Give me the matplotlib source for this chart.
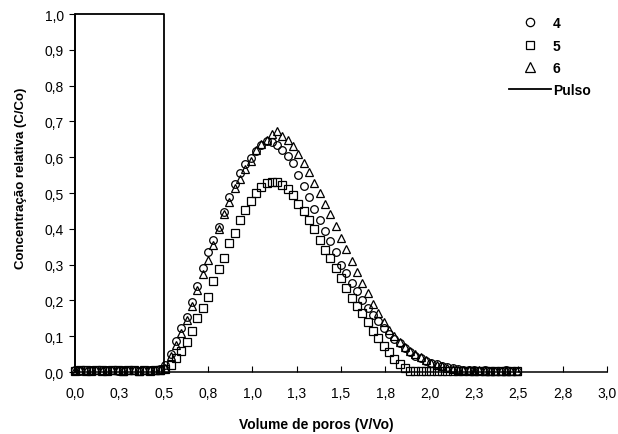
import matplotlib
matplotlib.use('Agg')
import matplotlib.pyplot as plt
from matplotlib.lines import Line2D

plt.rcParams['font.family'] = ['Liberation Sans', 'DejaVu Sans']

# pore volumes (V/Vo) shared by the three columns
volume = [0.00, 0.03, 0.06, 0.09, 0.12, 0.15, 0.18, 0.21, 0.24, 0.27,
          0.30, 0.33, 0.36, 0.39, 0.42, 0.45, 0.48, 0.51, 0.54, 0.57,
          0.60, 0.63, 0.66, 0.69, 0.72, 0.75, 0.78, 0.81, 0.84, 0.87,
          0.90, 0.93, 0.96, 0.99, 1.02, 1.05, 1.08, 1.11, 1.14, 1.17,
          1.20, 1.23, 1.26, 1.29, 1.32, 1.35, 1.38, 1.41, 1.44, 1.47,
          1.50, 1.53, 1.56, 1.59, 1.62, 1.65, 1.68, 1.71, 1.74, 1.77,
          1.80, 1.83, 1.86, 1.89, 1.92, 1.95, 1.98, 2.01, 2.04, 2.07,
          2.10, 2.13, 2.16, 2.19, 2.22, 2.25, 2.28, 2.31, 2.34, 2.37,
          2.40, 2.43, 2.46, 2.49]

col4 = [0.005, 0.004, 0.006, 0.005, 0.007, 0.004, 0.005, 0.006, 0.004, 0.005,
        0.006, 0.005, 0.004, 0.006, 0.005, 0.007, 0.008, 0.020, 0.050, 0.088,
        0.122, 0.155, 0.195, 0.240, 0.290, 0.335, 0.368, 0.405, 0.447, 0.488,
        0.525, 0.555, 0.580, 0.598, 0.618, 0.634, 0.645, 0.643, 0.634, 0.620,
        0.603, 0.583, 0.550, 0.520, 0.490, 0.455, 0.425, 0.393, 0.366, 0.335,
        0.300, 0.277, 0.250, 0.225, 0.200, 0.178, 0.160, 0.143, 0.122, 0.105,
        0.092, 0.080, 0.068, 0.056, 0.046, 0.038, 0.031, 0.026, 0.021, 0.017,
        0.014, 0.011, 0.009, 0.007, 0.006, 0.005, 0.004, 0.005, 0.004, 0.003,
        0.004, 0.005, 0.004, 0.003]

col5 = [0.004, 0.006, 0.005, 0.004, 0.006, 0.005, 0.004, 0.005, 0.006, 0.004,
        0.005, 0.006, 0.004, 0.005, 0.004, 0.005, 0.006, 0.008, 0.020, 0.038,
        0.058, 0.085, 0.115, 0.150, 0.178, 0.210, 0.255, 0.288, 0.318, 0.360,
        0.388, 0.425, 0.452, 0.478, 0.500, 0.516, 0.527, 0.532, 0.531, 0.522,
        0.512, 0.494, 0.470, 0.451, 0.425, 0.400, 0.368, 0.342, 0.318, 0.290,
        0.262, 0.235, 0.208, 0.185, 0.165, 0.140, 0.115, 0.094, 0.074, 0.055,
        0.037, 0.022, 0.010, 0.004, 0.004, 0.003, 0.002, 0.003, 0.004, 0.003,
        0.003, 0.002, 0.003, 0.004, 0.003, 0.003, 0.002, 0.003, 0.004, 0.003,
        0.003, 0.002, 0.003, 0.003]

col6 = [0.006, 0.005, 0.004, 0.006, 0.005, 0.004, 0.006, 0.005, 0.005, 0.004,
        0.006, 0.005, 0.004, 0.005, 0.006, 0.005, 0.007, 0.012, 0.045, 0.075,
        0.108, 0.145, 0.185, 0.228, 0.275, 0.312, 0.355, 0.400, 0.440, 0.475,
        0.515, 0.540, 0.568, 0.590, 0.620, 0.636, 0.648, 0.665, 0.672, 0.660,
        0.648, 0.630, 0.608, 0.585, 0.560, 0.527, 0.500, 0.470, 0.440, 0.408,
        0.375, 0.345, 0.310, 0.280, 0.250, 0.220, 0.190, 0.165, 0.140, 0.117,
        0.100, 0.085, 0.071, 0.060, 0.050, 0.041, 0.033, 0.026, 0.020, 0.016,
        0.012, 0.009, 0.007, 0.006, 0.005, 0.004, 0.005, 0.004, 0.003, 0.004,
        0.004, 0.003, 0.004, 0.003]

pulse_x = [0.0, 0.0, 0.5, 0.5]
pulse_y = [0.0, 1.0, 1.0, 0.0]

x_ticks = [0.0, 0.25, 0.5, 0.75, 1.0, 1.25, 1.5, 1.75, 2.0, 2.25, 2.5, 2.75, 3.0]
x_tick_labels = ['0,0', '0,3', '0,5', '0,8', '1,0', '1,3', '1,5', '1,8',
                 '2,0', '2,3', '2,5', '2,8', '3,0']
y_ticks = [0.0, 0.1, 0.2, 0.3, 0.4, 0.5, 0.6, 0.7, 0.8, 0.9, 1.0]
y_tick_labels = ['0,0', '0,1', '0,2', '0,3', '0,4', '0,5', '0,6', '0,7',
                 '0,8', '0,9', '1,0']

fig = plt.figure(figsize=(6.18, 4.35), dpi=100)
ax = fig.add_axes([0.1214, 0.1425, 0.8608, 0.823])

marker_style = dict(linestyle='none', markerfacecolor='none',
                    markeredgecolor='black', markeredgewidth=0.9)
ax.plot(volume, col4, marker='o', markersize=5.5, clip_on=False, **marker_style)
ax.plot(volume, col5, marker='s', markersize=5.5, clip_on=False, **marker_style)
ax.plot(volume, col6, marker='^', markersize=6, clip_on=False, **marker_style)
ax.plot(pulse_x, pulse_y, color='black', linewidth=1.3, clip_on=False)

ax.set_xlim(0, 3)
ax.set_ylim(0, 1)
ax.set_xticks(x_ticks)
ax.set_xticklabels(x_tick_labels)
ax.set_yticks(y_ticks)
ax.set_yticklabels(y_tick_labels)
ax.tick_params(axis='x', direction='in', length=4, pad=10, labelsize=10)
ax.tick_params(axis='y', direction='out', length=4, pad=4, labelsize=10)

for side in ['top', 'right']:
    ax.spines[side].set_visible(False)
for side in ['left', 'bottom']:
    ax.spines[side].set_linewidth(1.1)

ax.set_xlabel('Volume de poros (V/Vo)', fontsize=10, fontweight='bold')
ax.set_ylabel('Concentração relativa (C/Co)', fontsize=9.5, fontweight='bold')
ax.xaxis.set_label_coords(0.453, -0.125)
ax.yaxis.set_label_coords(-0.09, 0.545)

handles = [
    Line2D([], [], marker='o', markersize=6, **marker_style),
    Line2D([], [], marker='s', markersize=6, **marker_style),
    Line2D([], [], marker='^', markersize=6.5, **marker_style),
    Line2D([], [], color='black', linewidth=1.3),
]
fig.legend(handles, ['4', '5', '6', 'Pulso'], loc='upper left',
           bbox_to_anchor=(0.815, 0.973), frameon=False,
           prop={'weight': 'bold', 'size': 10},
           handlelength=3.0, handletextpad=0.15, labelspacing=0.6,
           borderaxespad=0.0)

fig.savefig('out.png', dpi=100)
